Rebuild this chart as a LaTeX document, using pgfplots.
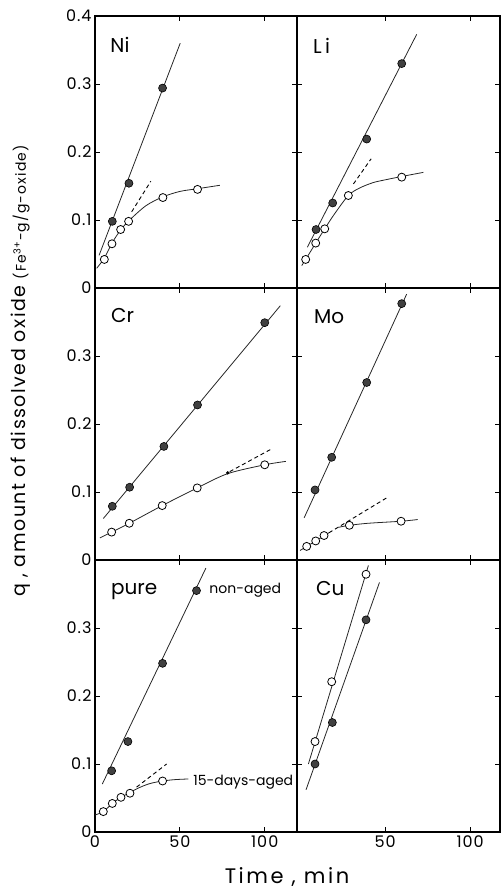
\documentclass[border=0pt]{standalone}
\usepackage{pgfplots}
\pgfplotsset{compat=1.18}
\usepackage{fontspec}
\setmainfont{Poppins}
\tikzset{plab/.style={anchor=base west, font=\fontsize{20}{20}\selectfont, inner sep=0pt}}
\pgfplotsset{
  panel/.style={
    scale only axis, height=272pt,
    ymin=0, ymax=0.4,
    axis line style={line width=1.6pt},
    tick align=inside, major tick length=5pt,
    tick style={line width=0.9pt, black},
    xtick={50,100}, ytick={0.1,0.2,0.3},
    xticklabels={}, yticklabels={},
    ticklabel style={font=\addfontfeatures{LetterSpace=6}\fontsize{16}{16}\selectfont},
    /pgf/number format/assume math mode=true,
    clip=false,
  },
  leftcol/.style={panel, width=202pt, xmin=0, xmax=119},
  rightcol/.style={panel, width=203pt, xmin=-1.8, xmax=117.6},
  ylab/.style={ytick={0,0.1,0.2,0.3}, yticklabels={0,0.1,0.2,0.3}},
  fitline/.style={black!85, line width=0.8pt, no marks},
  dashfit/.style={black, line width=0.9pt, dash pattern=on 4pt off 3pt, no marks},
  mfilled/.style={only marks, mark=*, mark size=4pt, mark options={fill=black!75, draw=black, line width=0.6pt}},
  mopen/.style={only marks, mark=*, mark size=4pt, mark options={fill=white, draw=black, line width=0.8pt}},
}
\begin{document}
\begin{tikzpicture}
\useasboundingbox (0,0) rectangle (502pt,890pt);
% ---------- Ni ----------
\begin{axis}[leftcol, ylab, ytick={0,0.1,0.2,0.3,0.4}, yticklabels={0,0.1,0.2,0.3,0.4}, at={(95pt,602pt)}, anchor=south west]
\addplot[fitline] coordinates {(2.4,0.048) (50.2,0.360)};
\addplot[fitline, smooth] coordinates {(1,0.029) (5.5,0.044) (10,0.066) (15,0.085) (20,0.099) (30,0.121) (40,0.134) (50,0.142) (60.4,0.146) (73.5,0.151)};
\addplot[dashfit] coordinates {(21.6,0.112) (32.9,0.157)};
\addplot[mopen] coordinates {(5.5,0.042) (10,0.065) (15.1,0.086) (19.8,0.098) (40,0.133) (60.4,0.145)};
\addplot[mfilled] coordinates {(10.2,0.098) (20,0.154) (39.8,0.294)};
\node[plab] at (axis cs:9,0.3456) {Ni};
\end{axis}
% ---------- Li ----------
\begin{axis}[rightcol, at={(297pt,602pt)}, anchor=south west]
\addplot[fitline] coordinates {(4.3,0.060) (68.6,0.373)};
\addplot[fitline, smooth] coordinates {(1,0.033) (3.3,0.042) (9.2,0.066) (14.5,0.087) (20,0.108) (28.4,0.136) (35,0.147) (43,0.155) (50,0.159) (59.8,0.164) (72.5,0.170)};
\addplot[dashfit] coordinates {(31.4,0.153) (41.8,0.190)};
\addplot[mopen] coordinates {(3.3,0.042) (9.2,0.066) (14.5,0.087) (28.4,0.136) (59.8,0.163)};
\addplot[mfilled] coordinates {(9.4,0.086) (19.2,0.125) (39.2,0.219) (59.8,0.330)};
\node[plab] at (axis cs:7.6,0.3446) {L\,i};
\end{axis}
% ---------- Cr ----------
\begin{axis}[leftcol, ylab, at={(95pt,330pt)}, anchor=south west]
\addplot[fitline] coordinates {(4.9,0.061) (109.2,0.374)};
\addplot[fitline, smooth] coordinates {(2.9,0.0325) (9.8,0.041) (20.2,0.054) (39.6,0.080) (60.2,0.106) (78.2,0.127) (100,0.140) (112.4,0.145)};
\addplot[dashfit] coordinates {(79.4,0.130) (104.5,0.164)};
\addplot[only marks, mark=*, mark size=1.5pt, black] coordinates {(78.2,0.128)};
\addplot[mopen] coordinates {(9.8,0.041) (20.2,0.054) (39.6,0.080) (60.2,0.106) (100,0.140)};
\addplot[mfilled] coordinates {(10.2,0.079) (20.4,0.107) (40.6,0.167) (60.4,0.228) (100,0.349)};
\node[plab] at (axis cs:9.4,0.3498) {Cr};
\end{axis}
% ---------- Mo ----------
\begin{axis}[rightcol, at={(297pt,330pt)}, anchor=south west]
\addplot[fitline] coordinates {(2.4,0.062) (62.7,0.391)};
\addplot[fitline] coordinates {(0,0.014) (17,0.040)};
\addplot[dashfit] coordinates {(17,0.040) (52,0.093)};
\addplot[fitline, smooth] coordinates {(22.5,0.048) (29,0.051) (40,0.054) (59.4,0.057) (69.2,0.0595)};
\addplot[mopen] coordinates {(3.9,0.020) (9.2,0.028) (14.1,0.036) (29,0.051) (59.4,0.057)};
\addplot[mfilled] coordinates {(8.8,0.103) (18.6,0.151) (39.2,0.261) (59.8,0.377)};
\node[plab] at (axis cs:8.2,0.348) {Mo};
\end{axis}
% ---------- pure ----------
\begin{axis}[leftcol, ylab, xtick={0,50,100}, xticklabels={0,50,100}, at={(95pt,58pt)}, anchor=south west]
\addplot[fitline] coordinates {(4.3,0.0705) (65.3,0.388)};
\addplot[fitline, smooth] coordinates {(0,0.025) (4.9,0.030) (10.2,0.042) (15.3,0.051) (20.6,0.058) (25,0.064) (32,0.071) (39.8,0.075) (47,0.077) (55,0.078)};
\addplot[dashfit] coordinates {(24.5,0.066) (42.2,0.100)};
\addplot[mopen] coordinates {(4.9,0.030) (10.2,0.042) (15.3,0.051) (20.6,0.057) (39.8,0.075)};
\addplot[mfilled] coordinates {(9.8,0.090) (19.4,0.133) (39.8,0.248) (59.8,0.355)};
\node[plab] at (axis cs:9.4,0.3488) {pure};
\node[anchor=base west, inner sep=0pt, font=\fontsize{14}{14}\selectfont] at (axis cs:67.3,0.350) {non-aged};
\node[anchor=base west, inner sep=0pt, font=\fontsize{14}{14}\selectfont] at (axis cs:57.8,0.069) {15-days-aged};
\end{axis}
% ---------- Cu ----------
\begin{axis}[rightcol, xticklabels={50,100}, at={(297pt,58pt)}, anchor=south west]
\addplot[fitline] coordinates {(4.9,0.100) (40.2,0.392)};
\addplot[fitline] coordinates {(3.5,0.062) (46.7,0.367)};
\addplot[mopen] coordinates {(8.8,0.133) (18.6,0.221) (38.8,0.379)};
\addplot[mfilled] coordinates {(8.8,0.100) (19,0.161) (38.8,0.312)};
\node[plab] at (axis cs:9.4,0.348) {Cu};
\end{axis}
% ---------- axis titles ----------
\node[rotate=90, inner sep=0pt] at (21pt,519pt) {\addfontfeatures{LetterSpace=8}\fontsize{19}{19}\selectfont q , amount of dissolved oxide {\fontsize{14}{14}\selectfont (Fe\textsuperscript{3+}-g/g-oxide)}};
\node[inner sep=0pt, anchor=base] at (287pt,6pt) {\addfontfeatures{LetterSpace=12}\fontsize{21}{21}\selectfont Time , min};
\end{tikzpicture}
\end{document}
